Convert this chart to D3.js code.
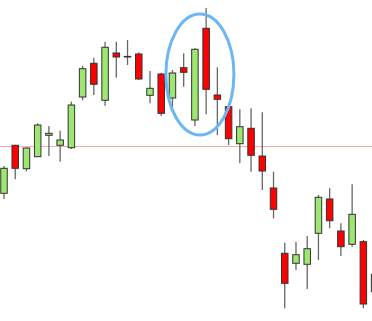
<!DOCTYPE html>
<html>
<head>
<meta charset="utf-8">
<title>Candles</title>
<style>
  body { margin: 0; background: #fff; }
  svg { display: block; }
</style>
</head>
<body>
<svg id="chart"></svg>
<script src="https://cdn.jsdelivr.net/npm/d3@7/dist/d3.min.js"></script>
<script>
// price values (arbitrary units)
const opens  = [127.7,175.7,152.3,164.3,185.7,175.7,173.3,224,257.7,220.7,268,264,267,225.7,247,223,253.3,201,292.7,226,214.3,177.3,192.7,165,133,67.7,57.7,56.7,87.7,122,90,76.7,79.3,29.3];
const highs  = [155,176.3,173.5,197.7,195,190.3,219.3,255,263.3,279.3,279.3,281,268.7,250,248.3,251,267.7,272.7,313,253.7,215,211.7,212.7,208.7,149.3,78.3,79.3,85,126,132.7,97.7,136.7,81,46.7];
const lows   = [122,141.7,149.7,164,165,159.3,172,220.7,226,215.3,243.3,256,241,217.7,205,214,234.3,195,206.7,186,176,157.7,149.3,131,102.7,12.7,51,32,61,92.7,65,74.3,12.7,29.3];
const closes = [152.7,152.7,173,196,187.7,181,216,252.3,236.7,273.7,264,264.6,242,232.7,207.7,248,248.7,271.7,231.7,221.7,182.3,194.3,165.7,150,111.7,37.7,66.3,72.3,123.7,100.3,74.3,106.7,17,46.7];
const levelPrice = 175;

const width = 372, height = 321;
const svg = d3.select('#chart').attr('width', width).attr('height', height);

const idx = d3.range(opens.length);
const step = 11.23;
const x = d3.scaleBand().domain(idx).range([4 - step / 2, 4 - step / 2 + step * idx.length]).padding(0);
const y = d3.scaleLinear().domain([0, 321]).range([321, 0]);
const bodyW = 6.5;

// horizontal level line
svg.append('line')
    .attr('x1', 0).attr('x2', width)
    .attr('y1', y(levelPrice) + 0.5).attr('y2', y(levelPrice) + 0.5)
    .attr('stroke', '#ffaaaa').attr('stroke-width', 1);

const candles = svg.selectAll('g.candle')
    .data(idx)
    .enter()
    .append('g')
    .attr('class', 'candle')
    .attr('transform', function (i) { return 'translate(' + (x(i) + x.bandwidth() / 2) + ',0)'; });

candles.append('line')
    .attr('x1', 0).attr('x2', 0)
    .attr('y1', function (i) { return y(highs[i]); })
    .attr('y2', function (i) { return y(lows[i]); })
    .attr('stroke', '#666').attr('stroke-width', 1.3);

candles.append('rect')
    .attr('x', -bodyW / 2)
    .attr('width', bodyW)
    .attr('y', function (i) { return y(Math.max(opens[i], closes[i])); })
    .attr('height', function (i) { return Math.max(0.6, Math.abs(y(opens[i]) - y(closes[i]))); })
    .attr('fill', function (i) { return closes[i] >= opens[i] ? '#9de672' : '#ff0000'; })
    .attr('stroke', '#333').attr('stroke-width', 1);

// highlight ellipse around candles 16-20
const hl = [15, 16, 17, 18, 19];
const hlHigh = d3.max(hl, function (i) { return highs[i]; });
const hlLow = d3.min(hl, function (i) { return lows[i]; });
const cx = (x(hl[0]) + x(hl[hl.length - 1]) + x.bandwidth()) / 2;
svg.append('ellipse')
    .attr('cx', cx + 5)
    .attr('cy', (y(hlHigh) + y(hlLow)) / 2 + 3)
    .attr('rx', 34)
    .attr('ry', 60.5)
    .attr('fill', 'none')
    .attr('stroke', '#6cb6f4')
    .attr('stroke-width', 3);
</script>
</body>
</html>
